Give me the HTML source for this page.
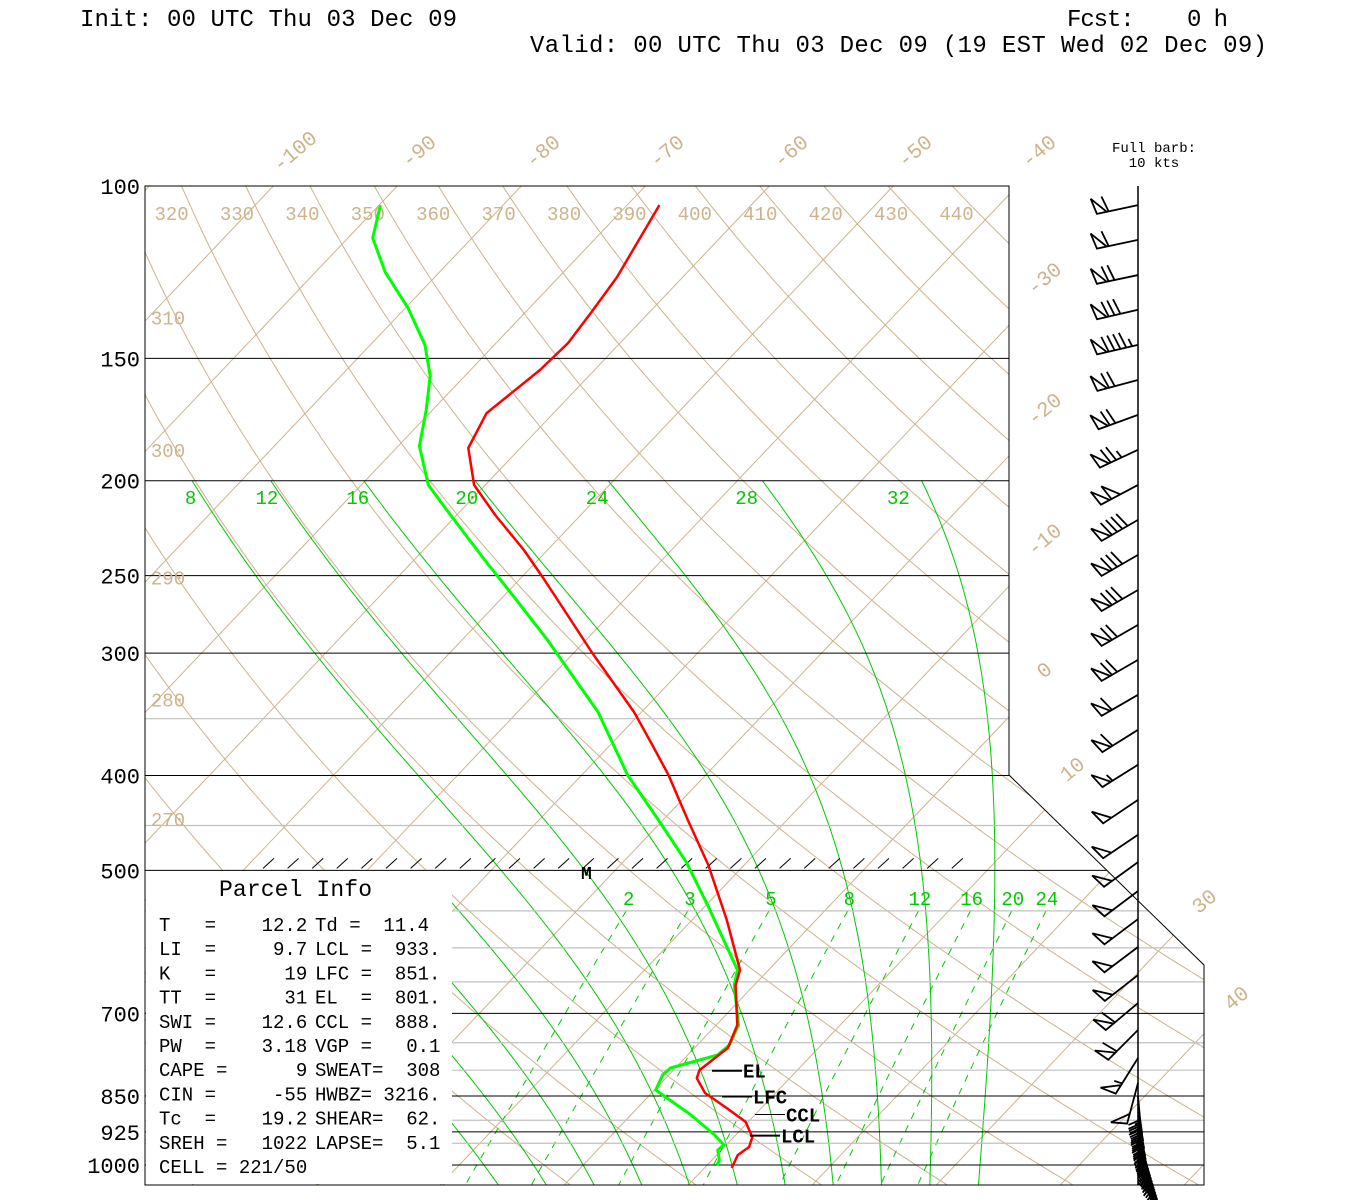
<!DOCTYPE html>
<html><head><meta charset="utf-8"><title>Skew-T</title>
<style>
html,body{margin:0;padding:0;background:#fff;}
svg{display:block;}
text{font-family:"Liberation Mono",monospace;}
.pre{white-space:pre;}
</style></head>
<body>
<svg id="chart" width="1350" height="1200" viewBox="0 0 1350 1200" xmlns="http://www.w3.org/2000/svg">
<defs><clipPath id="plotclip"><polygon points="145,186 1009,186 1009,775 1204,965 1204,1185 145,1185"/></clipPath></defs>
<rect width="1350" height="1200" fill="#fff"/>
<text x="80" y="26" font-size="24" textLength="377">Init: 00 UTC Thu 03 Dec 09</text>
<text class="pre" x="1067" y="26" font-size="24" textLength="161">Fcst:    0 h</text>
<text x="530" y="52" font-size="24" textLength="737">Valid: 00 UTC Thu 03 Dec 09 (19 EST Wed 02 Dec 09)</text>
<text x="1154" y="152" font-size="14" text-anchor="middle" font-family="Liberation Serif,serif">Full barb:</text>
<text x="1154" y="167" font-size="14" text-anchor="middle" font-family="Liberation Serif,serif">10 kts</text>
<g id="bg" clip-path="url(#plotclip)"></g>
<g id="hlines" clip-path="url(#plotclip)"></g>
<g id="labels"></g>
<rect x="146" y="871" width="306" height="313" fill="#fff"/>
<g id="panel" font-size="19">
<text x="219" y="896" font-size="23" textLength="153">Parcel Info</text>
</g>
<g id="profiles" clip-path="url(#plotclip)"></g>
<g id="annot"></g>
<g id="barbs"></g>
<polygon points="145,186 1009,186 1009,775 1204,965 1204,1185 145,1185" fill="none" stroke="#000" stroke-width="1"/>
<line x1="1138" y1="186" x2="1138" y2="1185" stroke="#000" stroke-width="1.5"/>
</svg>
<script>
// ---- data ----
const tempP = [104.6,123.9,134.2,144.7,154.1,170.6,185.2,202,216.8,235.4,251.4,274.3,299.9,344.6,372.4,399.6,444.2,493.8,561.9,632.1,654.9,719.4,759.4,799.8,815,844.1,872.3,903.5,936.4,958.5,976.7,1006.9];
const tempT = [-67.4,-65.3,-64.7,-64.2,-64.4,-65.4,-64.2,-60.9,-56.9,-51.9,-48.2,-43.4,-38.5,-30.6,-26.6,-23.0,-18.0,-12.9,-7.2,-2.3,-1.5,1.7,2.7,2.1,2.5,4.3,7.0,9.8,11.5,12.0,11.7,12.2];
const dewP = [104.6,113.0,122.4,133.2,145.3,156.3,169.4,184.3,202,216.8,241,261.1,290.9,344.6,399.6,446.3,490.4,542.4,632.1,654.9,719.4,753.9,772.1,795.9,808.9,838.2,858.1,887,931.7,953.8,965.4,988.2,1000];
const dewT = [-89.9,-88.0,-84.4,-79.8,-75.6,-72.8,-70.5,-68.3,-64.6,-60.5,-54.3,-49.5,-43.1,-33.5,-26.3,-20.1,-14.9,-9.9,-2.5,-1.6,1.8,2.6,2.4,-0.4,-0.5,0.1,2.0,4.7,8.3,9.8,9.7,10.6,10.8];
const pressureTicks = [100,150,200,250,300,400,500,700,850,925,1000];
const grayLevels = [350,450,550,600,650,750,800,900,950];
const isotherms = [-140,-130,-120,-110,-100,-90,-80,-70,-60,-50,-40,-30,-20,-10,0,10,20,30,40,50];
const isothermLabels = [-100,-90,-80,-70,-60,-50,-40,-30,-20,-10,0,10,30,40];
const thetas = [240,250,260,270,280,290,300,310,320,330,340,350,360,370,380,390,400,410,420,430,440,450,460,470];
const thetaTopLabels = [320,330,340,350,360,370,380,390,400,410,420,430,440];
const thetaLeftLabels = [270,280,290,300,310];
const thetaW = [8,12,16,20,24,28,32];
const thetaWLow = [-8,-4,0,4];
const thetaWLabels = [8,12,16,20,24,28,32];
const mixRatios = [2,3,5,8,12,16,20,24];
const windP = [104.6,113.5,123.3,133.8,145.3,157.8,171.3,186.0,202.0,219.3,238.1,258.6,280.7,304.8,330.9,359.3,390.1,423.6,459.9,490.4,524.9,560.7,598.8,639.6,683.1,727.9,777.4,824.5];
const windDir = [258,258,258,257,257,255,250,245,242,240,240,240,240,240,240,238,238,236,236,234,233,233,233,232,230,225,212,195];
const windSpd = [60,60,70,80,95,70,70,75,100,90,80,80,70,70,60,60,55,50,50,50,50,50,50,50,60,60,55,50];
const pblP = [850,858,866,874,882,890,898,906,914,922,930,938,946,954,962,970,978,986,994,1002,1010,1018,1026,1034,1042];
const pblDir = [175,175,172,172,170,170,168,168,166,165,164,162,160,158,156,154,152,150,148,146,144,142,140,138,136];
const pblSpd = [20,20,25,25,20,20,20,25,25,20,20,20,20,20,15,15,15,20,20,20,15,15,15,20,20];
const parcelRows = [
 ["T   =    12.2","Td =  11.4"],["LI  =     9.7","LCL =  933."],["K   =      19","LFC =  851."],
 ["TT  =      31","EL  =  801."],["SWI =    12.6","CCL =  888."],["PW  =    3.18","VGP =   0.1"],
 ["CAPE =      9","SWEAT=  308"],["CIN =     -55","HWBZ= 3216."],["Tc  =    19.2","SHEAR=  62."],
 ["SREH =   1022","LAPSE=  5.1"],["CELL = 221/50",""]];
const levelNames = ["EL","LFC","CCL","LCL"];
const levelP = [801,851,888,933];

// ---- axes ----
const NS="http://www.w3.org/2000/svg";
function yP(p){return 186+425.2*Math.log(p/100);}
function xT(T,p){return 1690+12.4*T-0.95*yP(p);}
function mk(tag,attrs,parent){const e=document.createElementNS(NS,tag);for(const k in attrs)e.setAttribute(k,attrs[k]);parent.appendChild(e);return e;}
const bg=document.getElementById('bg'), hl=document.getElementById('hlines'), lab=document.getElementById('labels');
const TAN="#cdb38c", GRN="#00c800";
function pathD(pts){return pts.map((q,i)=>(i?'L':'M')+q[0].toFixed(1)+','+q[1].toFixed(1)).join('');}

isotherms.forEach(T=>{const e=mk('line',{x1:xT(T,100),y1:yP(100),x2:xT(T,1050),y2:yP(1050),stroke:TAN,'stroke-width':1},bg);

});
function thT(th,p){return th*Math.pow(p/1000,0.2857)-273.15;}
thetas.forEach(th=>{const pts=[];for(let p=100;p<=1050;p+=5)pts.push([xT(thT(th,p),p),yP(p)]);
const e=mk('path',{d:pathD(pts),fill:'none',stroke:TAN,'stroke-width':1},bg);

});
function es(Tc){return 6.112*Math.exp(17.67*Tc/(Tc+243.5));}
function moist(thw,ptop){let T=thw+273.15;const up=[];
 for(let p=1000;p>=ptop;p-=2){up.push([p,T]);const e=es(T-273.15),r=0.622*e/(p-e);
  const dTdp=(287*T+2.5e6*r)/(1004+2.5e6*2.5e6*r*0.622/(287*T*T))/p;T-=dTdp*2;}
 T=thw+273.15;const dn=[];
 for(let p=1000;p<=1050;p+=2){dn.push([p,T]);const e=es(T-273.15),r=0.622*e/(p-e);
  const dTdp=(287*T+2.5e6*r)/(1004+2.5e6*2.5e6*r*0.622/(287*T*T))/p;T+=dTdp*2;}
 return up.reverse().concat(dn.slice(1));}
const moistCurves={};
function drawMoist(w,ptop){const c=moist(w,ptop);moistCurves[w]=c;const pts=c.map(q=>[xT(q[1]-273.15,q[0]),yP(q[0])]);
const e=mk('path',{d:pathD(pts),fill:'none',stroke:GRN,'stroke-width':1},bg);

}
thetaW.forEach(w=>drawMoist(w,200));
thetaWLow.forEach(w=>drawMoist(w,500));
function tdW(w,p){const e=w*p/(622+w);const l=Math.log(e/6.112);return 243.5*l/(17.67-l);}
mixRatios.forEach(w=>{const pts=[];for(let p=550;p<=1050;p+=10)pts.push([xT(tdW(w,p),p),yP(p)]);
const e=mk('path',{d:pathD(pts),fill:'none',stroke:GRN,'stroke-width':1,'stroke-dasharray':'7,7'},bg);

});
grayLevels.forEach(p=>{const e=mk('line',{x1:145,x2:1204,y1:yP(p),y2:yP(p),stroke:'#c0c0c0','stroke-width':1.2},hl);

});
pressureTicks.forEach(p=>{if(p===100)return;const e=mk('line',{x1:145,x2:1204,y1:yP(p),y2:yP(p),stroke:'#000','stroke-width':1},hl);

});
pressureTicks.forEach(p=>{const t=mk('text',{x:140,y:yP(p)+8,'font-size':22,'text-anchor':'end'},lab);t.textContent=p;

});
for(let x=263;x<=965;x+=24.6){const e=mk('line',{x1:x,y1:yP(500)-2,x2:x+11,y2:yP(500)-12,stroke:'#000','stroke-width':1},hl);

}
isothermLabels.forEach(T=>{let x,y;
 if(T<=-40){x=1547.5+12.4*T-12;y=152;}
 else if(T<=0){x=1045;y=(1690+12.4*T-1045)/0.95-8;}
 else if(T===10){x=1073;y=(1690+12.4*T-1073)/0.95-10;}
 else {x=T===30?1205:1237;y=(1690+12.4*T-x)/0.95;}
 const t=mk('text',{x:x,y:y,'font-size':21,fill:TAN,'text-anchor':'middle','dominant-baseline':'middle',transform:`rotate(-40 ${x} ${y})`,'font-family':'Liberation Serif,serif'},lab);t.textContent=T;
 
 });
thetaTopLabels.forEach(th=>{const x=xT(thT(th,106.6),106.6)-22;const t=mk('text',{x:x,y:220,'font-size':19,fill:TAN,'text-anchor':'middle','font-family':'Liberation Serif,serif'},lab);t.textContent=th;
 
 });
thetaLeftLabels.forEach(th=>{let yy=0;for(let p=100;p<=1050;p+=1){if(xT(thT(th,p),p)>=172){yy=yP(p);break;}}
 const t=mk('text',{x:168,y:yy+14,'font-size':19,fill:TAN,'text-anchor':'middle','font-family':'Liberation Serif,serif'},lab);t.textContent=th;
 
 });
thetaWLabels.forEach(w=>{const c=moistCurves[w];let q=c[0];for(const r of c){if(r[0]>=207.6){q=r;break;}}
 const x=xT(q[1]-273.15,q[0])-12-(w-8)*0.8;
 const t=mk('text',{x:x,y:504,'font-size':19,fill:GRN,'text-anchor':'middle','font-family':'Liberation Serif,serif'},lab);t.textContent=w;
 
 });
mixRatios.forEach(w=>{const t=mk('text',{x:xT(tdW(w,532),532)-6,y:905,'font-size':19,fill:GRN,'text-anchor':'middle','font-family':'Liberation Serif,serif'},lab);t.textContent=w;
 
 });
const prof=document.getElementById('profiles');
const dl=mk('path',{d:pathD(dewP.map((p,i)=>[xT(dewT[i],p),yP(p)])),fill:'none',stroke:'#00ff00','stroke-width':3,'stroke-linejoin':'round'},prof);


const tl=mk('path',{d:pathD(tempP.map((p,i)=>[xT(tempT[i],p),yP(p)])),fill:'none',stroke:'#ff0000','stroke-width':2.5,'stroke-linejoin':'round'},prof);


const pan=document.getElementById('panel');
parcelRows.forEach((r,i)=>{const y=931+i*24.2;
 const a=mk('text',{x:159,y:y,'class':'pre','font-size':19},pan);a.textContent=r[0];
 
 
 if(r[1]){const b=mk('text',{x:315,y:y,'class':'pre','font-size':19},pan);b.textContent=r[1];
 
 }});
const an=document.getElementById('annot');
const lvlX=[712,722,755,750];
levelNames.forEach((n,i)=>{const y=yP(levelP[i]);const l=mk('line',{x1:lvlX[i],x2:lvlX[i]+30,y1:y,y2:y,stroke:'#000','stroke-width':i===2?1:2},an);
 
 
 const t=mk('text',{x:lvlX[i]+31,y:y+7,'font-size':19,'font-weight':'bold','font-family':'Liberation Serif,serif'},an);t.textContent=n;
 
 });
const m=mk('text',{x:581,y:879,'font-size':18,'font-weight':'bold','font-family':'Liberation Serif,serif'},an);m.textContent='M';


const bb=document.getElementById('barbs');
function barb(p,dir,spd,L,name,fl){const x0=1138,y0=yP(p);const r=dir*Math.PI/180;const ux=Math.sin(r),uy=-Math.cos(r);
 const px=-uy,py=ux;let d=`M${x0},${y0}L${x0+ux*L},${y0+uy*L}`;let s=spd;let pos=L;const out=[];
 while(s>=50){const a=[x0+ux*pos,y0+uy*pos],b=[x0+ux*(pos-10),y0+uy*(pos-10)];
  out.push(`M${a[0]},${a[1]}L${a[0]+px*fl+ux*3},${a[1]+py*fl+uy*3}L${b[0]},${b[1]}Z`);pos-=12;s-=50;}
 while(s>=10){const a=[x0+ux*pos,y0+uy*pos];d+=`M${a[0]},${a[1]}L${a[0]+px*fl+ux*4},${a[1]+py*fl+uy*4}`;pos-=6;s-=10;}
 if(s>=5){const a=[x0+ux*pos,y0+uy*pos];d+=`M${a[0]},${a[1]}L${a[0]+px*fl/2+ux*2},${a[1]+py*fl/2+uy*2}`;}
 const e=mk('path',{d:d+out.join(''),fill:'none',stroke:'#000','stroke-width':1.8},bb);
 
 }
windP.forEach((p,i)=>barb(p,windDir[i],windSpd[i],42,'wind-barb',16));
pblP.forEach((p,i)=>barb(p,pblDir[i],pblSpd[i],30,'wind-barb-low',12));
</script>
</body></html>
